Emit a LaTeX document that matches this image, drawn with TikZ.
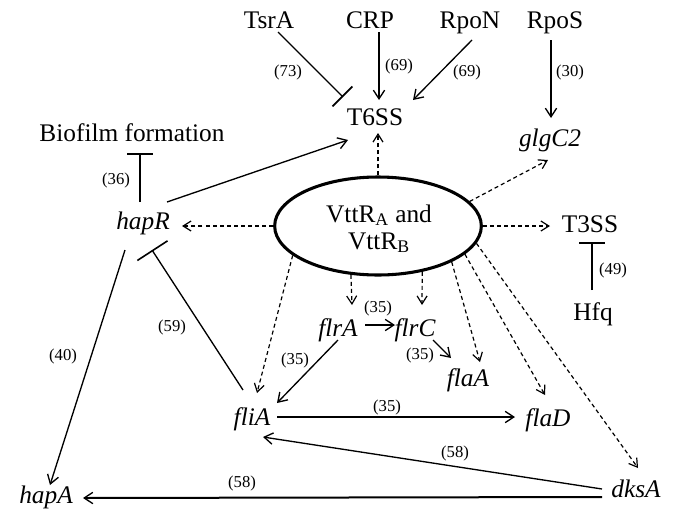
\documentclass[tikz,border=0pt]{standalone}
\usepackage{fontspec}
\setmainfont{Liberation Serif}
\usetikzlibrary{arrows.meta,calc,shapes.geometric}
\tikzset{
  prot/.style={font=\fontsize{19}{23}\selectfont, anchor=base, inner sep=0pt},
  gene/.style={font=\fontsize{19}{23}\selectfont\itshape, anchor=base, inner sep=0pt},
  lbl/.style={font=\fontsize{12.5}{15}\selectfont, inner sep=0pt},
  act/.style={line width=1pt, -{Straight Barb[length=6.5pt,width=8.5pt]}},
  thickact/.style={line width=1.5pt, -{Straight Barb[length=6.5pt,width=8.5pt,line width=1pt]}},
  inh/.style={line width=1pt, -{Bar[width=#1,line width=1.2pt]}},
  dsh/.style={line width=0.9pt, dash pattern=on 3pt off 2.3pt, -{Straight Barb[length=6pt,width=7.5pt]}},
}
\begin{document}
\begin{tikzpicture}[x=0.75pt,y=-0.75pt]
\useasboundingbox (0,0) rectangle (677,511);
% nodes
\node[prot] (tsra) at (269,28) {TsrA};
\node[prot] (crp) at (370,28) {CRP};
\node[prot] (rpon) at (470,28) {RpoN};
\node[prot] (rpos) at (555,28) {RpoS};
\node[prot] (t6ss) at (375,125) {T6SS};
\node[gene] (glgc) at (550,146) {glgC2};
\node[prot] (bio) at (132,141) {Biofilm formation};
\node[gene] (hapr) at (143,229) {hapR};
\node[prot] (t3ss) at (590,232) {T3SS};
\node[prot] (hfq) at (593,320) {Hfq};
\node[draw, ellipse, line width=2.3pt, minimum width=155pt, minimum height=73.5pt, inner sep=0pt] (vtt) at (378,226) {};
\node[prot] (vtta) at (379,222) {VttR\textsubscript{A} and};
\node[prot] (vttb) at (379,249) {VttR\textsubscript{B}};
\node[gene] (flra) at (338,336) {flrA};
\node[gene] (flrc) at (415,336) {flrC};
\node[gene] (flaa) at (468,386) {flaA};
\node[gene] (flia) at (252,425) {fliA};
\node[gene] (flad) at (548,426) {flaD};
\node[gene] (dksa) at (636,497) {dksA};
\node[gene] (hapa) at (46,503) {hapA};
% connectors top
\draw[inh=21pt] ($(tsra.base)+(9,4)$) -- ($(t6ss.base)+(-32,-28)$);
\draw[act] ($(crp.base)+(9,4)$) -- ($(t6ss.base)+(4,-25)$);
\draw[act] ($(rpon.base)+(2,12)$) -- ($(t6ss.base)+(38,-25)$);
\draw[act] ($(rpos.base)+(-4,12)$) -- ($(glgc.base)+(1,-28)$);
\draw[act] ($(hapr.base)+(24,-27)$) -- ($(t6ss.base)+(-27,15)$);
\draw[inh=19pt] ($(hapr.base)+(-3,-27)$) -- ($(bio.base)+(8,12)$);
\draw[inh=19pt] ($(hfq.base)+(-1,-30)$) -- ($(t3ss.base)+(2,10)$);
\draw[act] ($(hapr.base)+(-18,21)$) -- ($(hapa.base)+(4,-18)$);
\draw[inh=27pt] ($(flia.base)+(-9,-35)$) -- ($(hapr.base)+(9,21)$);
% dashed from VttR
\draw[dsh] (vtt.north) -- ($(t6ss.base)+(3,8)$);
\draw[dsh] (vtt.15.5) -- ($(glgc.base)+(-2,14)$);
\draw[dsh] (vtt.east) -- ($(t3ss.base)+(-40,-6)$);
\draw[dsh] (vtt.west) -- ($(hapr.base)+(39,-3)$);
\draw[dsh] (vtt.199.4) -- ($(flia.base)+(5,-32)$);
\draw[dsh] (vtt.241.3) -- ($(flra.base)+(14,-31)$);
\draw[dsh] (vtt.314.8) -- ($(flrc.base)+(7,-31)$);
\draw[dsh] (vtt.334.1) -- ($(flaa.base)+(12,-24)$);
\draw[dsh] (vtt.342) -- ($(flad.base)+(-3,-31)$);
\draw[dsh] (vtt.350.4) -- ($(dksa.base)+(2,-29)$);
% flagellar cascade
\draw[act] ($(flra.base)+(27,-11)$) -- ($(flrc.base)+(-20,-11)$);
\draw[act] ($(flra.base)+(0,4)$) -- ($(flia.base)+(25,-22)$);
\draw[act] ($(flrc.base)+(18,4)$) -- ($(flaa.base)+(-17,-28)$);
\draw[thickact] ($(flia.base)+(25,-8)$) -- ($(flad.base)+(-33,-9)$);
\draw[act] ($(dksa.base)+(-34,-8)$) -- ($(flia.base)+(11,12)$);
\draw[thickact] ($(dksa.base)+(-34,0)$) -- ($(hapa.base)+(37,-5)$);
% labels
\node[lbl] at (288,72) {(73)};
\node[lbl] at (399,66) {(69)};
\node[lbl] at (467,72) {(69)};
\node[lbl] at (570,72) {(30)};
\node[lbl] at (116,180) {(36)};
\node[lbl] at (613,270) {(49)};
\node[lbl] at (63,356) {(40)};
\node[lbl] at (172,327) {(59)};
\node[lbl] at (378,308) {(35)};
\node[lbl] at (295,360) {(35)};
\node[lbl] at (420,355) {(35)};
\node[lbl] at (387,407) {(35)};
\node[lbl] at (455,453) {(58)};
\node[lbl] at (242,483) {(58)};
\end{tikzpicture}
\end{document}
